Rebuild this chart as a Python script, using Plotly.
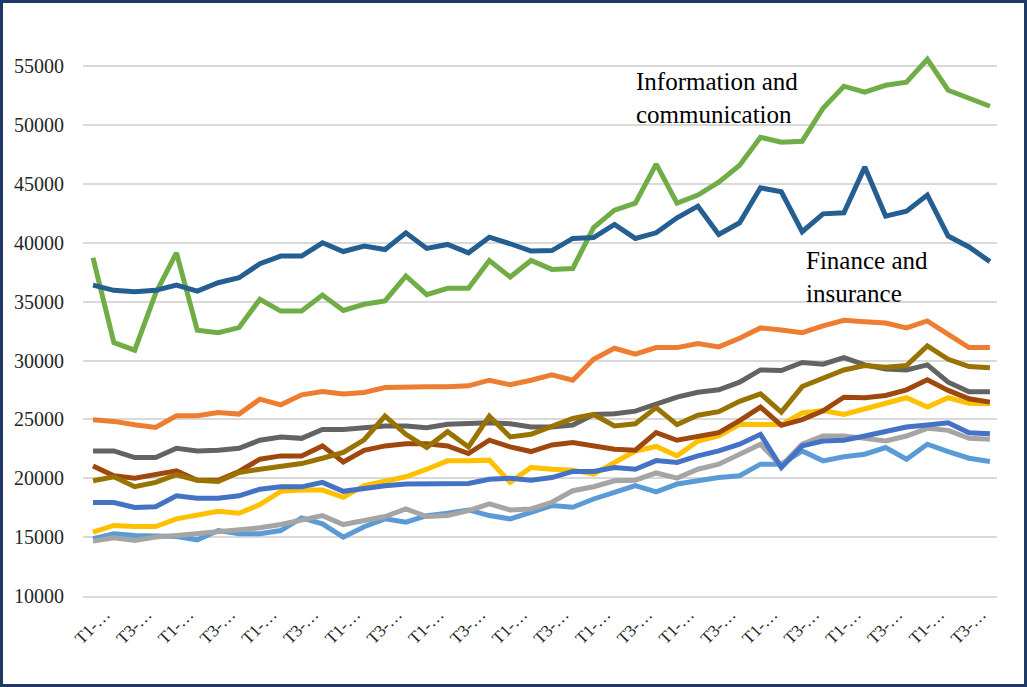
import plotly.graph_objects as go

# quarters, 11 years x 4, only T1 / T3 are labelled on the axis
quarter = list(range(44))
tick_pos = quarter[::2]
tick_labels = ["T1-…", "T3-…"] * 11

light_blue = [14860, 15280, 15140, 15140, 15060, 14770, 15560, 15280, 15280, 15560, 16630, 16130,
              15000, 15880, 16550, 16270, 16830, 17030, 17310, 16830, 16550, 17110, 17680, 17540,
              18240, 18800, 19370, 18850, 19510, 19790, 20070, 20210, 21200, 21200, 22320, 21480,
              21820, 22040, 22610, 21620, 22890, 22270, 21700, 21420]
orange = [24970, 24830, 24550, 24320, 25310, 25310, 25590, 25450, 26720, 26240, 27090, 27370,
          27150, 27290, 27710, 27770, 27770, 27770, 27850, 28330, 27940, 28330, 28790, 28330,
          30110, 31040, 30540, 31100, 31100, 31440, 31160, 31890, 32770, 32600, 32370, 32940,
          33420, 33300, 33190, 32770, 33360, 32230, 31100, 31100]
light_gray = [14660, 14940, 14720, 15000, 15140, 15280, 15420, 15560, 15790, 16070, 16460, 16830,
              16070, 16440, 16750, 17390, 16750, 16830, 17250, 17820, 17310, 17390, 17960, 18940,
              19280, 19790, 19840, 20450, 20010, 20770, 21200, 22040, 22890, 21060, 22890, 23590,
              23590, 23390, 23170, 23590, 24240, 24070, 23390, 23310]
yellow = [15420, 15990, 15900, 15900, 16550, 16830, 17200, 17030, 17760, 18890, 19000, 19000,
          18380, 19370, 19790, 20130, 20770, 21480, 21480, 21540, 19650, 20920, 20770, 20690,
          20350, 21340, 22320, 22700, 21900, 23170, 23590, 24580, 24620, 24560, 25540, 25760,
          25420, 25900, 26470, 26840, 26050, 26840, 26380, 26330]
mid_blue = [17940, 17940, 17520, 17580, 18510, 18310, 18310, 18510, 19070, 19270, 19270, 19650,
            18890, 19170, 19370, 19510, 19560, 19510, 19560, 19920, 20000, 19830, 20060, 20580,
            20580, 20920, 20770, 21500, 21340, 21900, 22320, 22890, 23730, 20920, 22750, 23170,
            23230, 23590, 23960, 24350, 24520, 24720, 23870, 23790]
info_comm = [38730, 31530, 30880, 35700, 39150, 32570, 32370, 32800, 35200, 34200, 34200, 35560,
             34250, 34780, 35060, 37180, 35590, 36130, 36130, 38500, 37090, 38500, 37740, 37820,
             41300, 42770, 43370, 46680, 43370, 44050, 45150, 46590, 48970, 48550, 48630, 51430,
             53300, 52790, 53380, 53640, 55590, 52960, 52280, 51600]
finance = [36410, 35960, 35850, 35960, 36410, 35900, 36610, 37030, 38220, 38870, 38870, 40000,
           39260, 39720, 39430, 40850, 39520, 39860, 39150, 40480, 39920, 39300, 39340, 40370,
           40450, 41560, 40370, 40850, 42120, 43110, 40710, 41700, 44670, 44330, 40940, 42460,
           42550, 46430, 42270, 42690, 44050, 40570, 39650, 38400]
brown = [21040, 20210, 20010, 20280, 20630, 19830, 19830, 20580, 21620, 21900, 21900, 22750,
         21380, 22380, 22750, 22940, 22940, 22750, 22100, 23230, 22660, 22270, 22830, 23030,
         22750, 22460, 22380, 23870, 23230, 23510, 23870, 24890, 26050, 24500, 24980, 25730,
         26890, 26840, 27030, 27510, 28360, 27460, 26750, 26470]
dark_gray = [22320, 22320, 21760, 21760, 22550, 22320, 22380, 22550, 23230, 23510, 23390, 24150,
             24150, 24270, 24440, 24440, 24300, 24580, 24630, 24720, 24630, 24350, 24350, 24520,
             25420, 25480, 25700, 26300, 26890, 27310, 27510, 28160, 29200, 29150, 29830, 29690,
             30250, 29630, 29270, 29200, 29630, 28160, 27340, 27340]
olive = [19790, 20130, 19280, 19650, 20300, 19830, 19730, 20490, 20770, 20970, 21250, 21700,
         22200, 23270, 25280, 23730, 22610, 23960, 22660, 25280, 23510, 23730, 24350, 25080,
         25420, 24440, 24630, 26000, 24560, 25350, 25660, 26540, 27170, 25620, 27790, 28450,
         29200, 29580, 29440, 29580, 31240, 30110, 29490, 29380]

series = [
    (light_blue, "#5B9BD5"),
    (orange, "#ED7D31"),
    (light_gray, "#A5A5A5"),
    (yellow, "#FFC000"),
    (mid_blue, "#4472C4"),
    (info_comm, "#70AD47"),
    (finance, "#255E91"),
    (brown, "#9E480E"),
    (dark_gray, "#636363"),
    (olive, "#997300"),
]

fig = go.Figure()
for values, color in series:
    fig.add_trace(go.Scatter(x=quarter, y=values, mode="lines",
                             line=dict(color=color, width=5), hoverinfo="y"))

W, H = 1027, 687
L, R, T, B = 83, 30, 25, 91
pw, ph = W - L - R, H - T - B
serif = "Liberation Serif"

fig.add_annotation(text="Information and<br>communication", xref="paper", yref="paper",
                   x=(634 - L) / pw, y=(596 - 66) / ph, xanchor="left", yanchor="top",
                   align="left", showarrow=False,
                   font=dict(family=serif, size=25, color="#000"))
fig.add_annotation(text="Finance and<br>insurance", xref="paper", yref="paper",
                   x=(804 - L) / pw, y=(596 - 245) / ph, xanchor="left", yanchor="top",
                   align="left", showarrow=False,
                   font=dict(family=serif, size=25, color="#000"))

# dark frame round the whole picture
fig.add_shape(type="rect", xref="paper", yref="paper",
              x0=(1.5 - L) / pw, x1=(W - 1.5 - L) / pw,
              y0=(-B + 1.5) / ph, y1=(H - B - 1.5) / ph,
              line=dict(color="#1F3864", width=3))

fig.update_layout(
    width=W, height=H,
    margin=dict(l=L, r=R, t=T, b=B),
    showlegend=False,
    plot_bgcolor="white",
    paper_bgcolor="white",
    font=dict(family=serif, color="#262626"),
    xaxis=dict(
        range=[-0.48, 43.34],
        tickvals=tick_pos,
        ticktext=tick_labels,
        tickangle=-45,
        tickfont=dict(family=serif, size=17, color="#262626"),
        ticklabelshift=12,
        showgrid=False,
        zeroline=False,
        showline=True,
        linecolor="#D9D9D9",
        linewidth=1.5,
    ),
    yaxis=dict(
        range=[10000, 58500],
        dtick=5000,
        tick0=10000,
        tickformat="d",
        tickfont=dict(family=serif, size=20, color="#262626"),
        gridcolor="#D9D9D9",
        gridwidth=1.5,
        zeroline=False,
        ticklabelstandoff=18,
    ),
)

# drop the browser's default page margin so the figure sits at (0, 0)
fig.write_html("out.html", config={"displayModeBar": False},
               post_script="document.body.style.margin='0';")
